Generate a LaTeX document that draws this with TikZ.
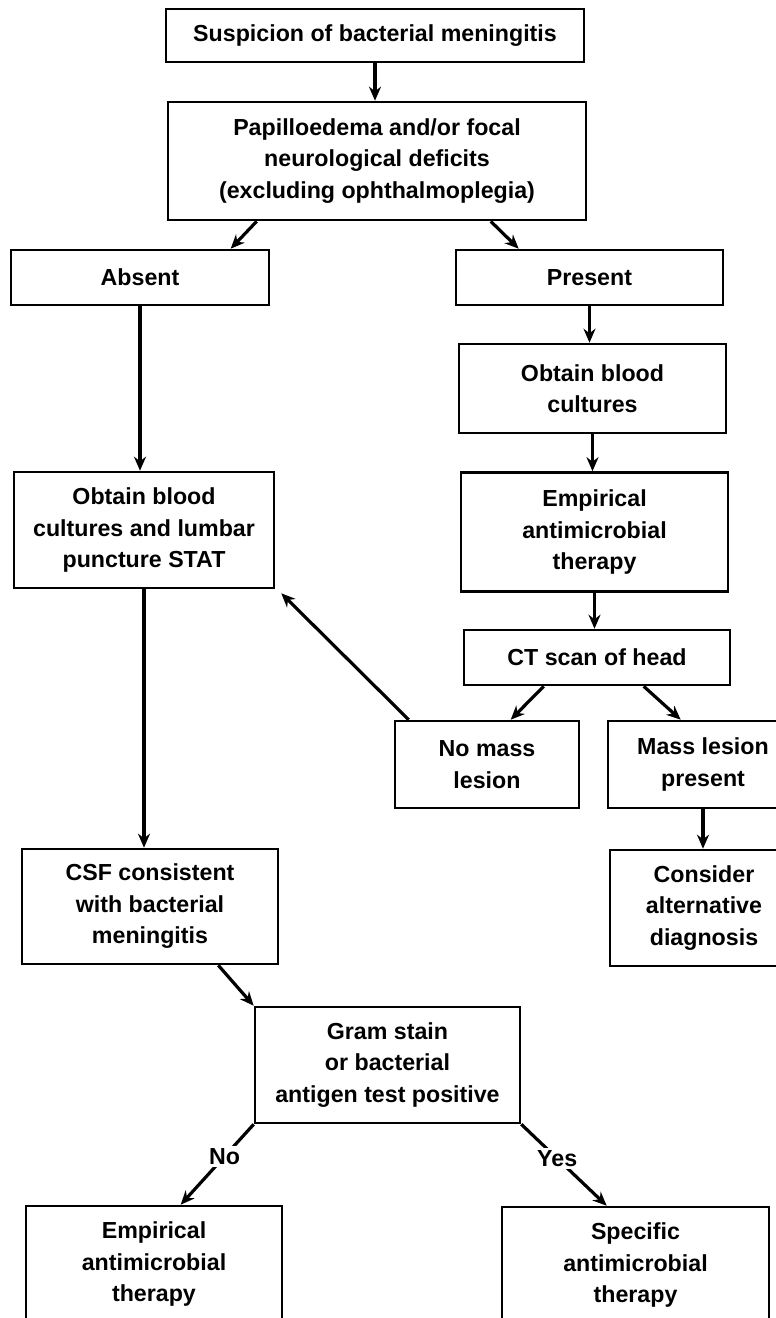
\documentclass[tikz,border=0pt]{standalone}
\usepackage{fontspec}
\setmainfont{Liberation Sans}
\usetikzlibrary{arrows.meta,calc}
\tikzset{
  box/.style={draw, line width=2.6pt, align=center, inner sep=0pt,
    font=\fontsize{23.2}{31.5}\selectfont\bfseries},
  arr/.style={-{Stealth[length=14pt,width=12pt]}, line width=3.2pt},
  lbl/.style={fill=white, inner sep=2pt, font=\fontsize{23.2}{31.5}\selectfont\bfseries}
}
\begin{document}
\begin{tikzpicture}[x=1pt,y=-1pt]
\useasboundingbox (0,0) rectangle (776,1318);
\clip (0,0) rectangle (776,1318);
\node[box, minimum width=418pt, minimum height=53pt] (b1) at (375,35.5) {Suspicion of bacterial meningitis};
\node[box, minimum width=418pt, minimum height=118pt] (b2) at (377,161) {Papilloedema and/or focal\\neurological deficits\\(excluding ophthalmoplegia)};
\node[box, minimum width=258pt, minimum height=55pt] (absent) at (140,277.5) {Absent};
\node[box, minimum width=267pt, minimum height=55pt] (present) at (589.5,277.5) {Present};
\node[box, minimum width=267pt, minimum height=89pt] (obc) at (592.5,388.5) {Obtain blood\\cultures};
\node[box, minimum width=267pt, minimum height=119pt] (emp) at (594.5,532) {Empirical\\antimicrobial\\therapy};
\node[box, minimum width=266pt, minimum height=55pt] (ct) at (597,657.5) {CT scan of head};
\node[box, minimum width=260pt, minimum height=116pt] (lb) at (144,530) {Obtain blood\\cultures and lumbar\\puncture STAT};
\node[box, minimum width=184pt, minimum height=87pt] (nomass) at (487,764.5) {No mass\\lesion};
\node[box, minimum width=190pt, minimum height=87pt] (mass) at (703,764.5) {Mass lesion\\present};
\node[box, minimum width=188pt, minimum height=116pt] (consider) at (704,908) {Consider\\alternative\\diagnosis};
\node[box, minimum width=256pt, minimum height=115pt] (csf) at (150,906.5) {CSF consistent\\with bacterial\\meningitis};
\node[box, minimum width=265pt, minimum height=116pt] (gram) at (387.5,1065) {Gram stain\\or bacterial\\antigen test positive};
\node[box, minimum width=256pt, minimum height=116pt] (emp2) at (154,1264) {Empirical\\antimicrobial\\therapy};
\node[box, minimum width=267pt, minimum height=116pt] (spec) at (635.5,1265) {Specific\\antimicrobial\\therapy};

\draw[arr] (b1.south) -- (b1.south |- b2.north);
\draw[arr] ([xshift=90pt]b2.south west) -- ([xshift=221pt]absent.north west);
\draw[arr] ([xshift=324pt]b2.south west) -- ([xshift=64pt]present.north west);
\draw[arr] (absent.south) -- (absent.south |- lb.north);
\draw[arr] (present.south) -- (present.south |- obc.north);
\draw[arr] (obc.south) -- (obc.south |- emp.north);
\draw[arr] (emp.south) -- (emp.south |- ct.north);
\draw[arr] ([xshift=81pt]ct.south west) -- ([xshift=117pt]nomass.north west);
\draw[arr] ([xshift=181pt]ct.south west) -- ([xshift=74pt]mass.north west);
\draw[arr] (mass.south) -- (mass.south |- consider.north);
\draw[arr] ([xshift=15pt]nomass.north west) -- ([shift={(6,4)}]lb.south east);
\draw[arr] (lb.south) -- (lb.south |- csf.north);
\draw[arr] ([xshift=-61pt]csf.south east) -- (gram.north west);
\draw[arr] (gram.south west) -- node[lbl,pos=0.4] {No} ([xshift=156pt]emp2.north west);
\draw[arr] (gram.south east) -- node[lbl,pos=0.42] {Yes} ([xshift=106pt]spec.north west);
\end{tikzpicture}
\end{document}
